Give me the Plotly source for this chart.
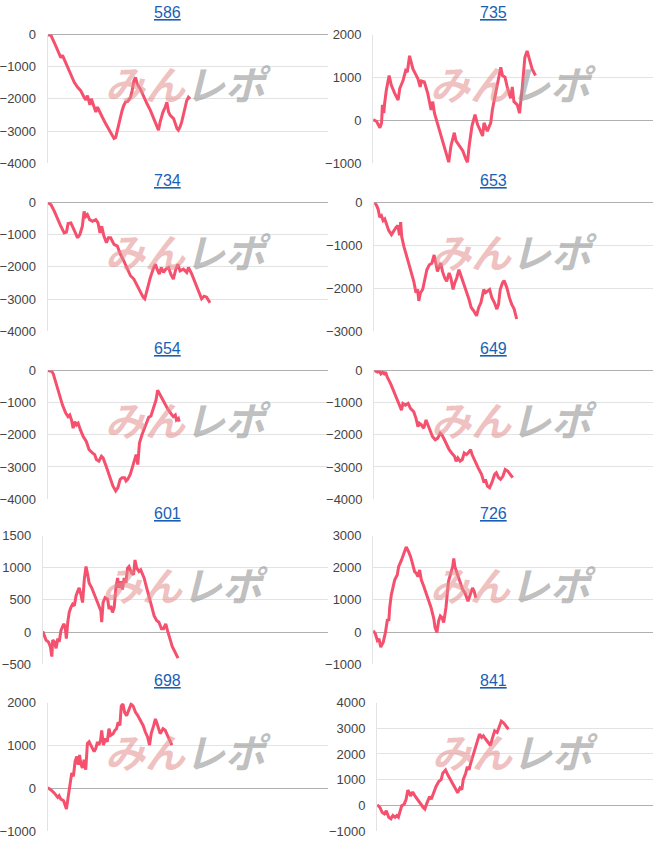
import plotly.graph_objects as go

titles = ["586", "735", "734", "653", "654", "649", "601", "726", "698", "841"]

x_586 = [0, 1.2, 2.4, 3.6, 4.7, 5.3, 5.9, 7.1, 8.3, 9.5, 10.7, 11.8, 13.0, 13.6, 14.2, 14.8, 15.1, 15.6, 16.3, 17.2, 17.8, 18.3, 19.5, 20.7, 21.9, 23.1, 23.7, 24.3, 24.9, 25.4, 26.0, 26.6, 27.2, 27.8, 28.6, 29.6, 30.2, 30.8, 31.4, 32.0, 33.1, 34.3, 35.5, 36.7, 37.9, 39.1, 39.6, 40.2, 41.2, 42.0, 42.6, 43.2, 43.8, 45.0, 45.6, 46.2, 46.7, 47.3, 47.9, 48.5, 49.1, 49.7, 50.3, 50.9]
y_586 = [0, -31, -256, -513, -718, -646, -769, -1026, -1231, -1487, -1641, -1744, -1949, -2031, -1897, -2051, -2185, -2000, -2205, -2410, -2256, -2359, -2564, -2769, -2974, -3159, -3231, -3200, -2974, -2769, -2564, -2359, -2205, -2103, -2082, -1949, -1744, -1436, -1333, -1538, -1692, -1949, -2154, -2359, -2615, -2820, -2974, -2718, -2410, -2256, -2103, -2410, -2513, -2615, -2769, -2923, -2974, -2872, -2718, -2462, -2205, -2051, -1949, -2000]

x_735 = [0, 1.2, 2.4, 3.0, 3.3, 3.8, 4.1, 4.7, 5.7, 6.5, 7.7, 8.9, 9.5, 10.7, 11.6, 12.2, 13.0, 14.2, 15.1, 16.0, 16.8, 17.2, 18.3, 19.5, 20.7, 21.3, 21.9, 23.1, 24.3, 25.4, 26.3, 27.0, 27.8, 29.0, 29.6, 30.8, 32.0, 33.1, 33.7, 34.3, 35.3, 36.4, 37.3, 38.1, 39.1, 39.6, 40.8, 42.0, 42.6, 43.5, 44.4, 45.6, 46.2, 47.1, 47.9, 49.1, 49.7, 50.3, 51.5, 52.3, 53.3, 54.2, 55.0, 56.0, 56.8, 58.0]
y_735 = [15, -23, -175, -61, 359, 168, 397, 702, 1045, 816, 626, 473, 740, 931, 1160, 1122, 1503, 1198, 1083, 969, 778, 916, 893, 626, 244, 435, 168, -99, -366, -595, -786, -977, -595, -290, -481, -595, -710, -900, -977, -595, -137, 130, -99, -214, -366, -61, -252, -61, 244, 549, 855, 1236, 1045, 1007, 778, 511, 778, 435, 359, 168, 778, 1465, 1618, 1389, 1198, 1045]

x_734 = [0, 1.2, 2.4, 3.6, 4.7, 5.9, 6.7, 7.3, 8.3, 9.1, 10.1, 10.7, 11.5, 12.4, 13.0, 13.6, 14.2, 15.0, 16.0, 17.2, 18.0, 18.7, 19.3, 20.1, 21.0, 21.7, 22.5, 23.7, 24.9, 26.0, 27.2, 28.4, 29.6, 30.8, 32.0, 33.1, 34.1, 34.7, 35.5, 36.7, 37.9, 38.5, 39.1, 39.9, 40.6, 41.4, 42.2, 43.2, 44.0, 44.9, 45.8, 46.5, 47.3, 48.5, 49.7, 50.3, 51.5, 52.7, 53.8, 55.0, 55.9, 56.8, 58.0]
y_734 = [0, -72, -277, -533, -738, -944, -923, -656, -636, -790, -995, -1097, -995, -738, -277, -431, -379, -533, -585, -533, -636, -944, -738, -1046, -1251, -1097, -1097, -1303, -1354, -1610, -1815, -2072, -2277, -2379, -2584, -2790, -2944, -2995, -2687, -2328, -2021, -1918, -2072, -2226, -2021, -2174, -2072, -2021, -2226, -2379, -2072, -1918, -2123, -2072, -2174, -2021, -2226, -2482, -2738, -2995, -2913, -2944, -3118]

x_653 = [0, 0.8, 1.4, 2.0, 2.6, 3.2, 3.8, 4.4, 5.2, 6.2, 7.1, 7.9, 8.5, 9.1, 9.5, 9.9, 10.7, 11.5, 12.3, 13.3, 14.2, 15.0, 15.6, 16.0, 16.6, 17.4, 18.2, 18.9, 19.8, 20.7, 21.5, 22.1, 22.7, 23.3, 23.9, 24.5, 25.3, 26.0, 26.9, 27.5, 28.3, 28.9, 29.6, 30.4, 31.2, 32.2, 33.1, 34.0, 34.8, 35.7, 36.7, 37.5, 38.3, 39.3, 39.9, 40.7, 41.4, 42.2, 43.1, 44.0, 44.6, 45.2, 46.0, 46.6, 47.6, 48.5, 49.3, 50.2, 51.1]
y_653 = [0, -61, -153, -344, -306, -421, -383, -497, -650, -750, -650, -574, -536, -765, -459, -803, -1033, -1224, -1415, -1607, -1836, -2104, -2028, -2295, -2104, -2028, -1760, -1568, -1454, -1415, -1224, -1415, -1607, -1492, -1415, -1607, -1760, -1836, -1645, -1760, -2028, -1875, -1760, -1568, -1721, -1913, -2066, -2257, -2448, -2525, -2640, -2448, -2333, -2028, -2104, -2066, -2028, -2219, -2333, -2486, -2372, -2028, -1875, -1821, -1989, -2219, -2372, -2486, -2716]

x_654 = [0, 1.4, 2.0, 3.0, 4.1, 5.3, 6.5, 7.3, 7.9, 8.5, 9.1, 9.7, 10.3, 10.9, 11.7, 12.7, 13.8, 14.8, 16.0, 16.8, 17.4, 18.3, 19.2, 19.8, 20.9, 22.1, 23.3, 24.3, 25.1, 25.9, 26.6, 27.5, 28.0, 28.6, 29.5, 30.4, 31.0, 31.6, 32.2, 32.8, 33.7, 34.6, 35.4, 36.1, 36.9, 37.5, 38.1, 38.7, 39.3, 39.9, 40.8, 41.7, 42.8, 44.0, 44.9, 45.6, 46.0, 46.7, 47.0]
y_654 = [0, -21, -103, -410, -769, -1077, -1333, -1436, -1385, -1538, -1795, -1590, -1692, -1641, -1846, -2051, -2205, -2462, -2564, -2615, -2769, -2820, -2667, -2718, -2974, -3282, -3590, -3744, -3641, -3385, -3333, -3333, -3436, -3385, -3231, -2974, -2769, -2615, -2923, -2256, -2000, -1795, -1590, -1456, -1415, -1231, -1026, -923, -615, -718, -872, -1026, -1179, -1333, -1436, -1385, -1538, -1487, -1590]

x_649 = [0, 1.2, 1.8, 2.4, 3.0, 3.6, 4.1, 4.7, 5.9, 7.1, 8.3, 9.2, 9.8, 10.3, 11.2, 12.2, 13.0, 14.2, 15.0, 15.7, 16.2, 16.9, 17.8, 18.6, 19.3, 20.1, 20.9, 21.9, 22.8, 23.7, 24.3, 25.2, 26.0, 26.9, 27.8, 28.8, 29.4, 30.0, 30.8, 31.6, 32.3, 33.1, 33.7, 34.6, 35.1, 36.1, 37.3, 38.5, 39.4, 39.9, 40.6, 41.4, 42.2, 43.2, 43.8, 44.6, 45.3, 46.2, 47.0, 47.9, 48.9, 49.7]
y_649 = [0, -51, -21, -103, -51, -103, -51, -205, -410, -667, -923, -1128, -1231, -1026, -1077, -1026, -1179, -1282, -1487, -1744, -1641, -1692, -1795, -1538, -1692, -1897, -2051, -2154, -2103, -1949, -2000, -2154, -2308, -2462, -2564, -2667, -2820, -2718, -2820, -2769, -2564, -2615, -2564, -2462, -2615, -2820, -3026, -3231, -3487, -3385, -3590, -3641, -3487, -3231, -3179, -3333, -3385, -3282, -3077, -3128, -3231, -3333]

x_601 = [0, 0.6, 1.2, 2.0, 2.7, 3.2, 3.5, 4.1, 4.7, 5.3, 5.8, 6.4, 7.4, 7.9, 8.3, 8.8, 9.3, 9.9, 10.5, 11.1, 11.7, 12.3, 12.8, 13.4, 14.0, 14.6, 15.2, 15.8, 16.3, 17.2, 18.1, 19.0, 19.8, 20.4, 20.7, 21.2, 21.9, 22.8, 23.3, 23.9, 24.5, 25.1, 25.7, 26.3, 26.8, 27.4, 28.0, 28.6, 29.2, 29.8, 30.3, 31.2, 31.9, 32.4, 33.0, 33.8, 34.4, 35.0, 35.6, 36.5, 37.3, 38.2, 39.1, 40.0, 40.8, 41.7, 42.4, 43.2, 43.8, 44.3, 44.9, 45.5, 46.1, 46.7, 47.5]
y_601 = [10, -51, -127, -153, -229, -382, -127, -153, -254, -102, -153, 25, 127, 76, -102, 153, 305, 382, 433, 407, 560, 636, 687, 585, 458, 814, 1018, 891, 763, 687, 585, 484, 407, 331, 153, 458, 534, 509, 356, 407, 305, 382, 687, 840, 687, 789, 662, 840, 763, 993, 1018, 916, 891, 1120, 993, 942, 967, 891, 840, 687, 534, 407, 254, 178, 153, 51, 51, 127, 25, -51, -127, -229, -280, -331, -407]

x_726 = [0, 0.8, 1.5, 2.1, 2.7, 3.6, 4.4, 5.1, 5.6, 5.9, 6.5, 7.1, 7.7, 8.6, 9.1, 10.1, 11.0, 11.8, 12.7, 13.4, 14.2, 14.8, 15.4, 16.0, 16.6, 17.2, 18.1, 18.9, 19.8, 20.7, 21.7, 22.1, 22.8, 23.4, 24.0, 24.6, 25.2, 26.0, 26.9, 27.8, 28.4, 28.8, 29.2, 30.2, 31.1, 32.0, 32.8, 33.5, 33.9, 34.7, 35.5, 36.1, 36.7]
y_726 = [41, -61, -265, -214, -469, -316, -10, 398, 347, 755, 1163, 1367, 1622, 1775, 2030, 2234, 2438, 2642, 2489, 2336, 2081, 1877, 1826, 1724, 1928, 1622, 1418, 1214, 1010, 755, 398, 143, -10, 347, 500, 449, 296, 755, 1571, 1826, 2030, 2285, 2030, 1775, 1520, 1316, 1214, 1061, 959, 1163, 1367, 1265, 1061]

x_698 = [0, 1.2, 2.4, 3.6, 4.1, 4.7, 5.7, 6.3, 6.7, 7.3, 7.9, 8.6, 9.2, 9.8, 10.4, 10.9, 11.4, 11.8, 12.4, 13.0, 13.6, 14.2, 14.8, 15.4, 16.0, 16.6, 17.2, 17.8, 18.3, 18.9, 19.3, 19.9, 20.7, 21.3, 21.9, 22.5, 23.4, 24.0, 24.6, 25.2, 25.8, 26.3, 26.9, 27.5, 28.2, 29.0, 29.8, 30.5, 31.4, 32.2, 33.1, 34.1, 34.9, 35.7, 36.4, 37.0, 37.9, 38.5, 39.1, 39.6, 40.2, 41.2, 42.0, 42.8, 43.6, 44.4]
y_698 = [15, -38, -114, -214, -175, -252, -290, -404, -481, -214, 15, 359, 282, 626, 740, 549, 778, 588, 473, 664, 435, 1045, 1083, 1007, 969, 855, 931, 1083, 1007, 1122, 1351, 1007, 1160, 1083, 1389, 1236, 1274, 1351, 1389, 1541, 1465, 1923, 1961, 1770, 1694, 1808, 1961, 1923, 1770, 1694, 1579, 1465, 1312, 1198, 1007, 1274, 1465, 1618, 1503, 1389, 1274, 1389, 1351, 1236, 1122, 1007]

x_841 = [0, 1.0, 1.8, 2.6, 3.3, 4.2, 5.0, 5.7, 6.5, 7.1, 7.7, 8.3, 8.9, 9.8, 10.5, 11.1, 11.7, 12.1, 12.9, 13.7, 14.6, 15.7, 16.7, 17.3, 17.9, 18.5, 19.0, 19.6, 20.5, 21.4, 22.4, 23.2, 23.8, 24.8, 25.6, 26.8, 28.0, 29.2, 30.0, 30.7, 31.2, 32.1, 32.7, 33.3, 33.9, 34.8, 35.5, 36.3, 37.1, 37.9, 38.5, 39.3, 40.5, 41.1, 41.7, 42.6, 43.5, 44.3, 45.0, 45.8, 46.7, 47.6]
y_841 = [25, -76, -266, -329, -203, -456, -519, -392, -456, -392, -456, -203, -13, 51, 241, 595, 494, 367, 519, 367, 215, 76, -76, -139, 51, 241, 342, 241, 494, 747, 937, 1000, 1253, 1380, 1190, 937, 684, 494, 684, 620, 1000, 1253, 1506, 1380, 1633, 1950, 2203, 2519, 2772, 2646, 2709, 2582, 2392, 2329, 2582, 2899, 2835, 3089, 3279, 3215, 3089, 2962]

series_x = [x_586, x_735, x_734, x_653, x_654, x_649, x_601, x_726, x_698, x_841]
series_y = [y_586, y_735, y_734, y_653, y_654, y_649, y_601, y_726, y_698, y_841]
y_ranges = [(-4000, 0), (-1000, 2000), (-4000, 0), (-3000, 0), (-4000, 0),
            (-4000, 0), (-500, 1500), (-1000, 3000), (-1000, 2000), (-1000, 4000)]
y_dticks = [1000, 1000, 1000, 1000, 1000, 1000, 500, 1000, 1000, 1000]

W, H = 656, 850
row_tops = [28, 199, 370, 538, 708]
plot_h = 131
col_left = [[43, 371], [43, 372], [43, 372], [38, 371], [43, 375]]
col_right = [325, 653]

LINE = "#f5506e"
FONT = "Arial, Liberation Sans, sans-serif"

fig = go.Figure()
layout = dict(
    width=W, height=H, margin=dict(l=0, r=0, t=0, b=0),
    paper_bgcolor="white", plot_bgcolor="white", showlegend=False,
    font=dict(family=FONT, size=13, color="#444444"),
)
annotations = []

for i in range(10):
    r, c = divmod(i, 2)
    n = "" if i == 0 else str(i + 1)
    left = col_left[r][c]
    right = col_right[c]
    top = row_tops[r]
    bottom = top + plot_h
    xd = [left / W, right / W]
    yd = [1 - bottom / H, 1 - top / H]
    fig.add_trace(go.Scatter(
        x=series_x[i], y=series_y[i], mode="lines",
        line=dict(color=LINE, width=3), xaxis="x" + n, yaxis="y" + n,
        hoverinfo="skip"))
    layout["xaxis" + n] = dict(
        domain=xd, range=[0, 100], showgrid=False, zeroline=False,
        showticklabels=False, ticks="", showline=False, anchor="y" + n)
    layout["yaxis" + n] = dict(
        domain=yd, range=list(y_ranges[i]), dtick=y_dticks[i], tick0=0,
        showgrid=True, gridcolor="#e3e3e3", gridwidth=1,
        zeroline=True, zerolinecolor="#b0b0b0", zerolinewidth=1,
        showline=True, linecolor="#e3e3e3", linewidth=1,
        ticks="", ticklabelstandoff=8, anchor="x" + n,
        tickfont=dict(size=13, color="#444444"))
    # title (link style)
    cx = (c * 328 + (c + 1) * 328) / 2 / W
    annotations.append(dict(
        text=titles[i], xref="paper", yref="paper", x=cx, y=1 - (top - 22) / H,
        xanchor="center", yanchor="middle", showarrow=False,
        font=dict(size=16, color="#1a5fb4", family=FONT, lineposition="under")))
    # watermark
    annotations.append(dict(
        text="<b><i><span style='color:rgba(226,140,140,0.55)'>みん</span>"
             "<span style='color:rgba(150,150,150,0.62)'>レポ</span></i></b>",
        xref="x" + n + " domain", yref="y" + n + " domain", x=0.5, y=0.62,
        xanchor="center", yanchor="middle", showarrow=False,
        font=dict(size=40, family="Noto Sans CJK JP")))

layout["annotations"] = annotations
fig.update_layout(**layout)
fig.write_html("out.html")
